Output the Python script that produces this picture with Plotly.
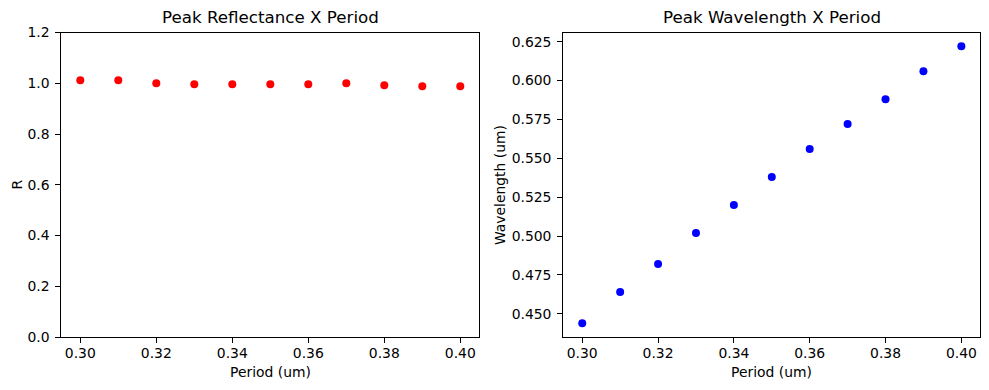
import plotly.graph_objects as go

period = [0.30, 0.31, 0.32, 0.33, 0.34, 0.35, 0.36, 0.37, 0.38, 0.39, 0.40]
peak_reflectance = [1.012, 1.012, 1.000, 0.996, 0.996, 0.996, 0.996, 1.000, 0.992, 0.988, 0.988]
peak_wavelength = [0.444, 0.464, 0.482, 0.502, 0.520, 0.538, 0.556, 0.572, 0.588, 0.606, 0.622]

W, H = 989, 390
FONT = "DejaVu Sans"
TICK = 13.9
TITLE = 16.7

fig = go.Figure()
fig.add_trace(go.Scatter(x=period, y=peak_reflectance, mode="markers",
                         marker=dict(color="red", size=8, line=dict(width=0)),
                         xaxis="x", yaxis="y", showlegend=False))
fig.add_trace(go.Scatter(x=period, y=peak_wavelength, mode="markers",
                         marker=dict(color="blue", size=8, line=dict(width=0)),
                         xaxis="x2", yaxis="y2", showlegend=False))

ydom = [1 - 337 / H, 1 - 32.5 / H]
d1 = [61.3 / W, 479.3 / W]
d2 = [563.3 / W, 980.3 / W]

axis_common = dict(showline=True, linecolor="black", linewidth=1.1, mirror=True,
                   ticks="outside", ticklen=5, tickwidth=1.1, tickcolor="black",
                   showgrid=False, zeroline=False,
                   tickfont=dict(family=FONT, size=TICK, color="black"))

xticks = [0.30, 0.32, 0.34, 0.36, 0.38, 0.40]
xlabels = [f"{v:.2f}" for v in xticks]
y1ticks = [0.0, 0.2, 0.4, 0.6, 0.8, 1.0, 1.2]
y2ticks = [0.450, 0.475, 0.500, 0.525, 0.550, 0.575, 0.600, 0.625]

fig.update_layout(
    width=W, height=H,
    margin=dict(l=0, r=0, t=0, b=0, pad=0, autoexpand=False),
    paper_bgcolor="white", plot_bgcolor="white",
    font=dict(family=FONT, size=TICK, color="black"),
    xaxis=dict(domain=d1, range=[0.295, 0.405], anchor="y", ticklabelstandoff=-2,
               tickvals=xticks, ticktext=xlabels, **axis_common),
    yaxis=dict(domain=ydom, range=[0, 1.2], anchor="x", ticklabelstandoff=3,
               tickvals=y1ticks, ticktext=[f"{v:.1f}" for v in y1ticks], **axis_common),
    xaxis2=dict(domain=d2, range=[0.295, 0.405], anchor="y2", ticklabelstandoff=-2,
                tickvals=xticks, ticktext=xlabels, **axis_common),
    yaxis2=dict(domain=ydom, range=[0.4351, 0.6309], anchor="x2", ticklabelstandoff=3,
                tickvals=y2ticks, ticktext=[f"{v:.3f}" for v in y2ticks], **axis_common),
)

ann = []
def add(text, x, y, size, angle=0):
    ann.append(dict(text=text, x=x, y=y, xref="paper", yref="paper",
                    xanchor="center", yanchor="middle", showarrow=False,
                    textangle=angle, font=dict(family=FONT, size=size, color="black")))

add("Peak Reflectance X Period", (d1[0] + d1[1]) / 2, 1 - 17.3 / H, TITLE)
add("Peak Wavelength X Period", (d2[0] + d2[1]) / 2, 1 - 17.3 / H, TITLE)
add("Period (um)", (d1[0] + d1[1]) / 2, 1 - 371.7 / H, TICK)
add("Period (um)", (d2[0] + d2[1]) / 2, 1 - 371.7 / H, TICK)
add("R", 16.7 / W, (ydom[0] + ydom[1]) / 2, TICK, -90)
add("Wavelength (um)", 499.3 / W, (ydom[0] + ydom[1]) / 2, TICK, -90)
fig.update_layout(annotations=ann)

fig.write_html("out.html", config={"displayModeBar": False},
               post_script="document.body.style.margin='0';document.body.style.overflow='hidden';")
